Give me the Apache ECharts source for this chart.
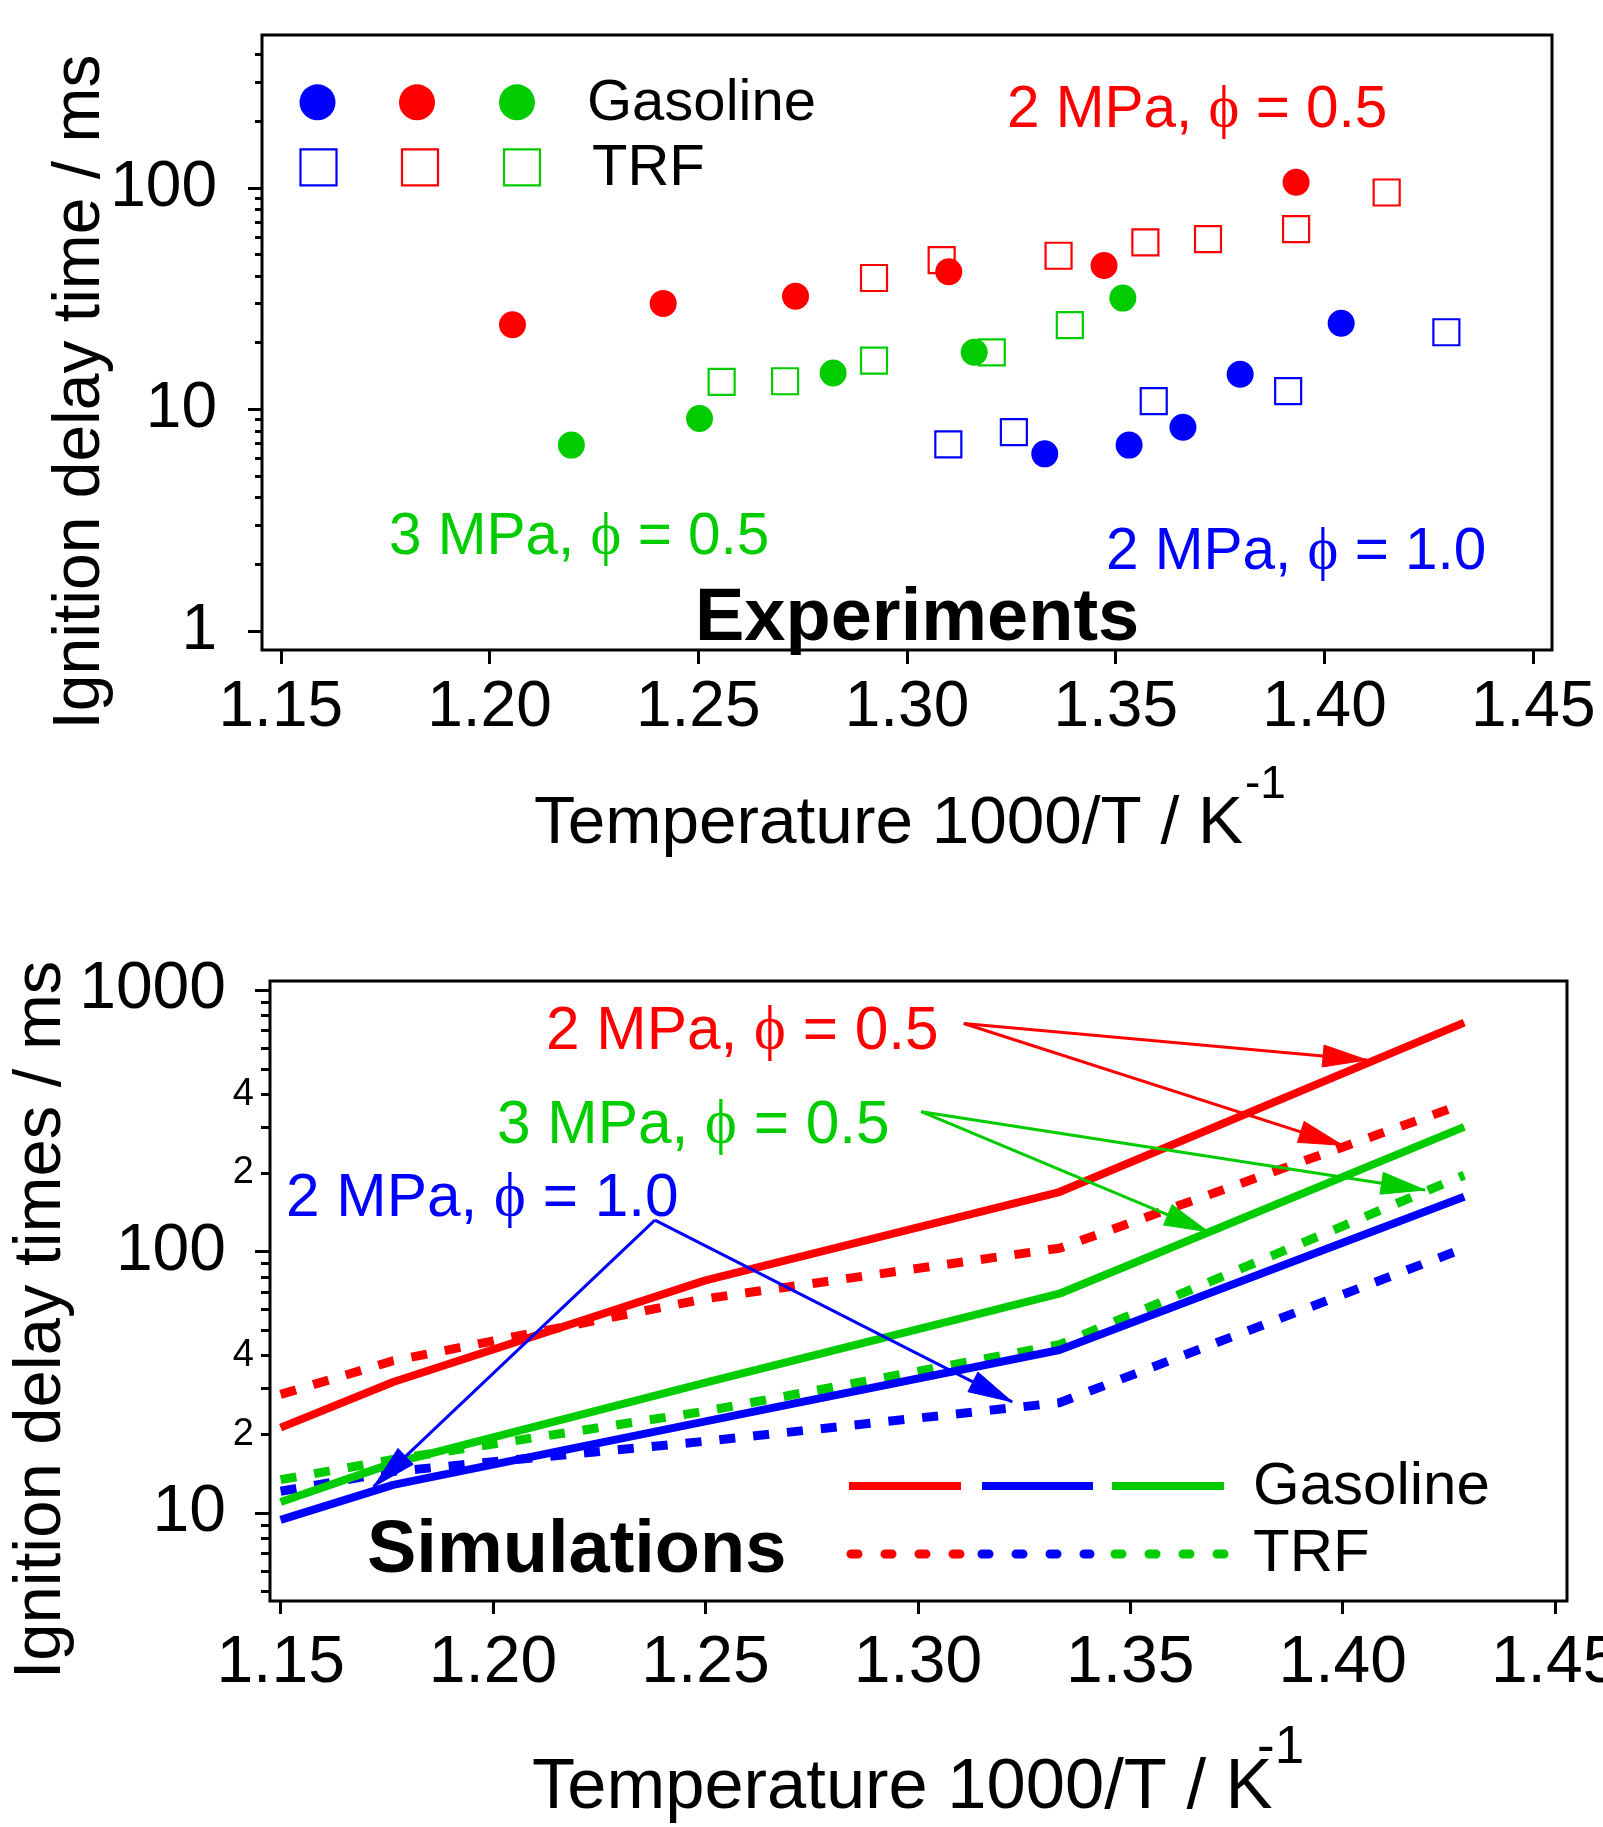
<!DOCTYPE html>
<html>
<head>
<meta charset="utf-8">
<script src="https://cdn.jsdelivr.net/npm/echarts@6/dist/echarts.min.js"></script>
<style>
  html, body { margin: 0; padding: 0; background: #ffffff; }
  #main { width: 1603px; height: 1827px; }
</style>
</head>
<body>
<div id="main"></div>
<script>
const RED = '#ff0000';
const BLUE = '#0000ff';
const GREEN = '#00cc00';
const SANS = '"Liberation Sans", Arial, sans-serif';
const SERIF = '"Liberation Serif", "DejaVu Serif", serif';

// ---- Experiments: [1000/T (1/K), ignition delay (ms)] ----
const expGasoline2MPaPhi10 = [[1.3330, 6.3], [1.3532, 6.9], [1.3661, 8.3], [1.3798, 14.4], [1.4040, 24.5]];
const expTRF2MPaPhi10 = [[1.3099, 6.95], [1.3256, 7.9], [1.3591, 10.9], [1.3913, 12.1], [1.4292, 22.3]];
const expGasoline2MPaPhi05 = [[1.2055, 24.1], [1.2416, 30.1], [1.2733, 32.4], [1.3100, 41.8], [1.3472, 44.6], [1.3932, 106]];
const expTRF2MPaPhi05 = [[1.2921, 39.2], [1.3083, 47.2], [1.3363, 49.4], [1.3571, 56.7], [1.3721, 58.7], [1.3932, 65.2], [1.4149, 95.3]];
const expGasoline3MPaPhi05 = [[1.2196, 6.9], [1.2503, 9.1], [1.2823, 14.6], [1.3161, 18.1], [1.3517, 31.8]];
const expTRF3MPaPhi05 = [[1.2556, 13.3], [1.2708, 13.4], [1.2921, 16.6], [1.3203, 18.1], [1.3390, 24.0]];

// ---- Simulations: ignition delay (ms) at each 1000/T ----
const simInvT = [1.15, 1.1765, 1.25, 1.3333, 1.4286];
const simGasoline2MPaPhi05 = [21.2, 31.7, 77.6, 169, 752];
const simTRF2MPaPhi05 = [28.4, 38.2, 66, 103, 368];
const simGasoline3MPaPhi05 = [11.0, 15.5, 31.5, 69, 300];
const simTRF3MPaPhi05 = [13.4, 16.0, 24.5, 44, 196];
const simGasoline2MPaPhi10 = [9.4, 12.8, 22.4, 42, 162];
const simTRF2MPaPhi10 = [12.1, 14.4, 18.8, 26.4, 103];

// ---- Annotation arrows (data coordinates: [from, to]) ----
const arrowsRed = [[[1.3108, 746], [1.4057, 541]], [[1.3108, 746], [1.4000, 255]]];
const arrowsGreen = [[[1.3008, 343], [1.3684, 119]], [[1.3008, 343], [1.4194, 172]]];
const arrowsBlue = [[[1.2381, 132], [1.1719, 12.6]], [[1.2381, 132], [1.3222, 26.6]]];

// ---- Ticks ----
const xTicks = [1.15, 1.20, 1.25, 1.30, 1.35, 1.40, 1.45];
const expYMajor = [1, 10, 100];
const expYMinor = [2, 3, 4, 5, 6, 7, 8, 9, 20, 30, 40, 50, 60, 70, 80, 90, 200, 300, 400];
const simYMajor = [10, 100, 1000];
const simYLabels = [10, 20, 40, 100, 200, 400, 1000];
const simYMinor = [5, 6, 7, 8, 9, 20, 30, 40, 50, 60, 70, 80, 90, 200, 300, 400, 500, 600, 700, 800, 900];

const pairs = (xs, ys) => xs.map((x, i) => [x, ys[i]]);

function xAxisCfg(gridIndex, min, max, tickLen, margin, fontSize) {
  return {
    type: 'value', gridIndex, min, max, position: 'bottom',
    axisLine: { show: false },
    splitLine: { show: false },
    axisTick: { show: true, inside: false, length: tickLen, customValues: xTicks,
                lineStyle: { color: '#000', width: 3 } },
    axisLabel: { show: true, customValues: xTicks, margin, color: '#000',
                 fontFamily: SANS, fontSize, formatter: v => Number(v).toFixed(2) }
  };
}

function yMinorAxis(gridIndex, min, max, values, len) {
  return {
    type: 'log', logBase: 10, gridIndex, min, max, position: 'left',
    axisLine: { show: false }, splitLine: { show: false },
    axisLabel: { show: false },
    axisTick: { show: true, inside: false, length: len, customValues: values,
                lineStyle: { color: '#000', width: 3 } }
  };
}

function expScatter(name, data, color, filled) {
  return {
    type: 'scatter', name, xAxisIndex: 0, yAxisIndex: 0, data,
    symbol: filled ? 'circle' : 'rect',
    symbolSize: filled ? 27 : 26,
    itemStyle: filled
      ? { color, opacity: 1 }
      : { color: 'rgba(255,255,255,0)', borderColor: color, borderWidth: 2.2, opacity: 1 },
    emphasis: { disabled: true },
    silent: true, z: filled ? 4 : 3
  };
}

function simLine(name, ys, color, dashed, arrows) {
  const s = {
    type: 'line', name, xAxisIndex: 1, yAxisIndex: 2,
    data: pairs(simInvT, ys),
    showSymbol: false, symbol: 'none',
    lineStyle: { color, width: dashed ? 9 : 8, type: dashed ? [16, 18] : 'solid', cap: 'butt' },
    itemStyle: { color },
    emphasis: { disabled: true },
    silent: true, z: dashed ? 3 : 4
  };
  if (arrows) {
    s.markLine = {
      silent: true,
      symbol: ['none', 'none'],
      label: { show: false },
      emphasis: { disabled: true },
      lineStyle: { color, width: 3, type: 'solid', opacity: 1, curveness: 0 },
      data: arrows.map(a => [{ coord: a[0] }, { coord: a[1] }])
    };
  }
  return s;
}

function txt(text, x, y, fontSize, color, extra) {
  return Object.assign({
    type: 'text', x, y, z: 100, silent: true,
    style: Object.assign({
      text, fill: color, fontFamily: SANS, fontSize,
      align: 'left', verticalAlign: 'middle',
      rich: { phi: { fontFamily: SERIF, fontSize, fill: color } }
    }, extra && extra.style)
  }, extra && extra.el);
}

const graphics = [
  // axis titles
  txt('Ignition delay time / ms', 81, 392, 66, '#000',
      { style: { align: 'center' }, el: { rotation: Math.PI / 2 } }),
  txt('Temperature 1000/T / K', 534, 824, 67.5, '#000'),
  txt('-1', 1245, 785, 46, '#000'),
  txt('Ignition delay times / ms', 42, 1320, 67, '#000',
      { style: { align: 'center' }, el: { rotation: Math.PI / 2 } }),
  txt('Temperature 1000/T / K', 532, 1789, 70.5, '#000'),
  txt('-1', 1257, 1748, 53, '#000'),

  // panel labels
  txt('Experiments', 695, 620, 74, '#000', { style: { fontWeight: 'bold' } }),
  txt('Simulations', 367, 1552, 74, '#000', { style: { fontWeight: 'bold' } }),

  // condition labels, experiments panel
  txt('2 MPa, {phi|ϕ} = 0.5', 1007, 111, 58.5, RED),
  txt('3 MPa, {phi|ϕ} = 0.5', 389, 538, 58.5, GREEN),
  txt('2 MPa, {phi|ϕ} = 1.0', 1106, 553, 58.5, BLUE),

  // condition labels, simulations panel
  txt('2 MPa, {phi|ϕ} = 0.5', 546, 1032, 60.4, RED),
  txt('3 MPa, {phi|ϕ} = 0.5', 497, 1126, 60.4, GREEN),
  txt('2 MPa, {phi|ϕ} = 1.0', 286, 1199, 60.4, BLUE),

  // key, experiments panel
  { type: 'circle', shape: { cx: 317.5, cy: 102.3, r: 18 }, style: { fill: BLUE }, z: 100, silent: true },
  { type: 'circle', shape: { cx: 417, cy: 102.3, r: 18 }, style: { fill: RED }, z: 100, silent: true },
  { type: 'circle', shape: { cx: 517, cy: 102.3, r: 18 }, style: { fill: GREEN }, z: 100, silent: true },
  { type: 'rect', shape: { x: 300.5, y: 149.3, width: 36, height: 36 }, style: { fill: 'none', stroke: BLUE, lineWidth: 2.2 }, z: 100, silent: true },
  { type: 'rect', shape: { x: 402, y: 149.3, width: 36, height: 36 }, style: { fill: 'none', stroke: RED, lineWidth: 2.2 }, z: 100, silent: true },
  { type: 'rect', shape: { x: 504, y: 149.3, width: 36, height: 36 }, style: { fill: 'none', stroke: GREEN, lineWidth: 2.2 }, z: 100, silent: true },
  txt('Gasoline', 587, 104, 58, '#000'),
  txt('TRF', 592, 169, 58, '#000'),

  // key, simulations panel
  { type: 'line', shape: { x1: 849, y1: 1486, x2: 961, y2: 1486 }, style: { stroke: RED, lineWidth: 8 }, z: 100, silent: true },
  { type: 'line', shape: { x1: 982, y1: 1486, x2: 1093, y2: 1486 }, style: { stroke: BLUE, lineWidth: 8 }, z: 100, silent: true },
  { type: 'line', shape: { x1: 1112, y1: 1486, x2: 1224, y2: 1486 }, style: { stroke: GREEN, lineWidth: 8 }, z: 100, silent: true },
  { type: 'line', shape: { x1: 851, y1: 1554, x2: 962, y2: 1554 }, style: { stroke: RED, lineWidth: 9, lineDash: [7, 27], lineCap: 'round' }, z: 100, silent: true },
  { type: 'line', shape: { x1: 982, y1: 1554, x2: 1090, y2: 1554 }, style: { stroke: BLUE, lineWidth: 9, lineDash: [7, 27], lineCap: 'round' }, z: 100, silent: true },
  { type: 'line', shape: { x1: 1115, y1: 1554, x2: 1224, y2: 1554 }, style: { stroke: GREEN, lineWidth: 9, lineDash: [7, 27], lineCap: 'round' }, z: 100, silent: true },
  txt('Gasoline', 1253, 1487, 60, '#000'),
  txt('TRF', 1253, 1554, 60, '#000')
];

const series = [
  expScatter('TRF 2 MPa, phi 1.0', expTRF2MPaPhi10, BLUE, false),
  expScatter('TRF 2 MPa, phi 0.5', expTRF2MPaPhi05, RED, false),
  expScatter('TRF 3 MPa, phi 0.5', expTRF3MPaPhi05, GREEN, false),
  expScatter('Gasoline 2 MPa, phi 1.0', expGasoline2MPaPhi10, BLUE, true),
  expScatter('Gasoline 2 MPa, phi 0.5', expGasoline2MPaPhi05, RED, true),
  expScatter('Gasoline 3 MPa, phi 0.5', expGasoline3MPaPhi05, GREEN, true),

  simLine('TRF 2 MPa, phi 0.5', simTRF2MPaPhi05, RED, true),
  simLine('TRF 3 MPa, phi 0.5', simTRF3MPaPhi05, GREEN, true),
  simLine('TRF 2 MPa, phi 1.0', simTRF2MPaPhi10, BLUE, true),
  simLine('Gasoline 2 MPa, phi 0.5', simGasoline2MPaPhi05, RED, false, arrowsRed),
  simLine('Gasoline 3 MPa, phi 0.5', simGasoline3MPaPhi05, GREEN, false, arrowsGreen),
  simLine('Gasoline 2 MPa, phi 1.0', simGasoline2MPaPhi10, BLUE, false, arrowsBlue)
];
const SIM_SERIES_INDEX = 9;

const option = {
  animation: false,
  backgroundColor: '#ffffff',
  grid: [
    { left: 262, top: 35, width: 1290, height: 615, show: true, containLabel: false,
      outerBoundsMode: 'none',
      borderColor: '#000', borderWidth: 3, backgroundColor: 'transparent' },
    { left: 270, top: 981, width: 1297, height: 620, show: true, containLabel: false,
      outerBoundsMode: 'none',
      borderColor: '#000', borderWidth: 3, backgroundColor: 'transparent' }
  ],
  xAxis: [
    xAxisCfg(0, 1.1455, 1.4545, 14, 26, 64),
    xAxisCfg(1, 1.1475, 1.4528, 13, 30, 66)
  ],
  yAxis: [
    {
      type: 'log', logBase: 10, gridIndex: 0, min: 0.82, max: 490, position: 'left',
      axisLine: { show: false }, splitLine: { show: false },
      axisTick: { show: true, inside: false, length: 14, customValues: expYMajor,
                  lineStyle: { color: '#000', width: 3 } },
      axisLabel: { show: true, customValues: expYMajor, margin: 45, color: '#000',
                   fontFamily: SANS, fontSize: 64, formatter: v => String(Math.round(v)) }
    },
    yMinorAxis(0, 0.82, 490, expYMinor, 7),
    {
      type: 'log', logBase: 10, gridIndex: 1, min: 4.6, max: 1085, position: 'left',
      axisLine: { show: false }, splitLine: { show: false },
      axisTick: { show: true, inside: false, length: 15, customValues: simYMajor,
                  lineStyle: { color: '#000', width: 3 } },
      axisLabel: {
        show: true, customValues: simYLabels, margin: 16, color: '#000',
        fontFamily: SANS, fontSize: 66,
        formatter: v => {
          const r = Math.round(v);
          if (simYMajor.indexOf(r) >= 0) return '{b|' + r + '}';
          return '{s|' + String(r).charAt(0) + '}';
        },
        rich: {
          b: { fontFamily: SANS, fontSize: 66, color: '#000', padding: [0, 28, 0, 0] },
          s: { fontFamily: SANS, fontSize: 38, color: '#000' }
        }
      }
    },
    yMinorAxis(1, 4.6, 1085, simYMinor, 9)
  ],
  series,
  graphic: graphics
};

const chart = echarts.init(document.getElementById('main'), null, { renderer: 'canvas' });
chart.setOption(option);

// Arrowheads: filled triangles whose tip sits on each arrow's target point,
// placed through the simulation panel's axes.
function arrowHead(from, to, color) {
  const p0 = chart.convertToPixel({ seriesIndex: SIM_SERIES_INDEX }, from);
  const p1 = chart.convertToPixel({ seriesIndex: SIM_SERIES_INDEX }, to);
  const dx = p1[0] - p0[0], dy = p1[1] - p0[1];
  const len = Math.sqrt(dx * dx + dy * dy) || 1;
  const ux = dx / len, uy = dy / len;
  const L = 44, W = 22;
  const bx = p1[0] - ux * L, by = p1[1] - uy * L;
  return {
    type: 'polygon', z: 90, silent: true,
    shape: { points: [[p1[0], p1[1]], [bx - uy * W / 2, by + ux * W / 2], [bx + uy * W / 2, by - ux * W / 2]] },
    style: { fill: color, stroke: color, lineWidth: 1 }
  };
}
const heads = [];
arrowsRed.forEach(a => heads.push(arrowHead(a[0], a[1], RED)));
arrowsGreen.forEach(a => heads.push(arrowHead(a[0], a[1], GREEN)));
arrowsBlue.forEach(a => heads.push(arrowHead(a[0], a[1], BLUE)));
option.graphic = graphics.concat(heads);
chart.setOption(option, true);
</script>
</body>
</html>
